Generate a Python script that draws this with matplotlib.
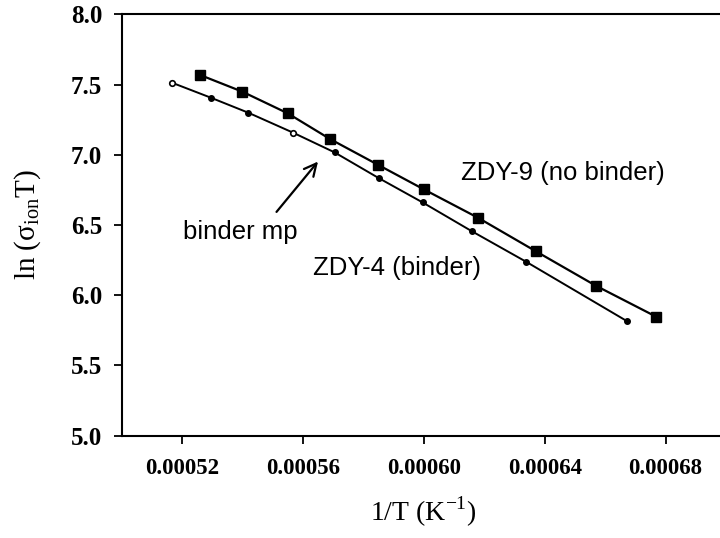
import matplotlib
matplotlib.use("Agg")
import matplotlib.pyplot as plt
import numpy as np

# ZDY-9 (no binder) - squares
x_nobinder = [0.000526, 0.000540, 0.000555, 0.000569, 0.000585, 0.000600,
              0.000618, 0.000637, 0.000657, 0.000677]
y_nobinder = [7.568, 7.449, 7.295, 7.112, 6.927, 6.754, 6.551, 6.314, 6.067, 5.846]

# ZDY-4 (binder) - small circles
x_binder = [0.0005167, 0.0005296, 0.000542, 0.0005568, 0.0005705, 0.0005851,
            0.0005996, 0.0006158, 0.0006339, 0.0006672]
y_binder = [7.513, 7.406, 7.299, 7.157, 7.017, 6.834, 6.661, 6.457, 6.238, 5.816]
open_binder = [0, 3]  # indices drawn as open circles

xticks = [0.00052, 0.00056, 0.00060, 0.00064, 0.00068]
xticklabels = ["0.00052", "0.00056", "0.00060", "0.00064", "0.00068"]
yticks = [5.0, 5.5, 6.0, 6.5, 7.0, 7.5, 8.0]
yticklabels = ["5.0", "5.5", "6.0", "6.5", "7.0", "7.5", "8.0"]

fig = plt.figure(figsize=(7.2, 5.38), dpi=100)
ax = fig.add_axes([121.5 / 720, 102.3 / 538, (726 - 121.5) / 720, (435.7 - 14.3) / 538])

ax.plot(x_nobinder, y_nobinder, color="black", lw=1.6, marker="s", ms=7.5,
        mfc="black", mec="black", zorder=3)
ax.plot(x_binder, y_binder, color="black", lw=1.4, zorder=3)
fill_idx = [i for i in range(len(x_binder)) if i not in open_binder]
ax.plot([x_binder[i] for i in fill_idx], [y_binder[i] for i in fill_idx],
        ls="none", marker="o", ms=4, mfc="black", mec="black", zorder=4)
ax.plot([x_binder[i] for i in open_binder], [y_binder[i] for i in open_binder],
        ls="none", marker="o", ms=4, mfc="white", mec="black", mew=1.2, zorder=4)

ax.set_xlim(0.0005, 0.0007)
ax.set_ylim(5.0, 8.0)
ax.set_xticks(xticks)
ax.set_xticklabels(xticklabels)
ax.set_yticks(yticks)
ax.set_yticklabels(yticklabels)

for lab in ax.get_xticklabels():
    lab.set_fontfamily("Liberation Serif")
    lab.set_fontweight("bold")
    lab.set_fontsize(16.5)
for lab in ax.get_yticklabels():
    lab.set_fontfamily("Liberation Serif")
    lab.set_fontweight("bold")
    lab.set_fontsize(18)

ax.tick_params(axis="both", direction="out", length=6, width=1.3, color="black")
ax.tick_params(axis="x", pad=10)
ax.tick_params(axis="y", pad=8)
ax.spines["right"].set_visible(False)
for s in ["left", "bottom", "top"]:
    ax.spines[s].set_linewidth(1.5)

ax.set_xlabel(r"1/T (K$^{\mathregular{-1}}$)", fontfamily="Liberation Serif",
              fontsize=20, labelpad=11)
ax.set_ylabel(r"ln ($\mathregular{\sigma_{ion}}$T)", fontfamily="Liberation Serif",
              fontsize=21, labelpad=20)

sans = "Liberation Sans"
ax.text(0.000646, 6.87, "ZDY-9 (no binder)", fontfamily=sans, fontsize=18.5,
        ha="center", va="center")
ax.text(0.0005912, 6.193, "ZDY-4 (binder)", fontfamily=sans, fontsize=18.5,
        ha="center", va="center")
ax.text(0.0005394, 6.449, "binder mp", fontfamily=sans, fontsize=18.5,
        ha="center", va="center")
ax.annotate("", xy=(0.0005656, 6.967), xytext=(0.0005507, 6.578),
            arrowprops=dict(arrowstyle="->", color="black", lw=1.6,
                            mutation_scale=22))

fig.savefig("out.png", dpi=100)
